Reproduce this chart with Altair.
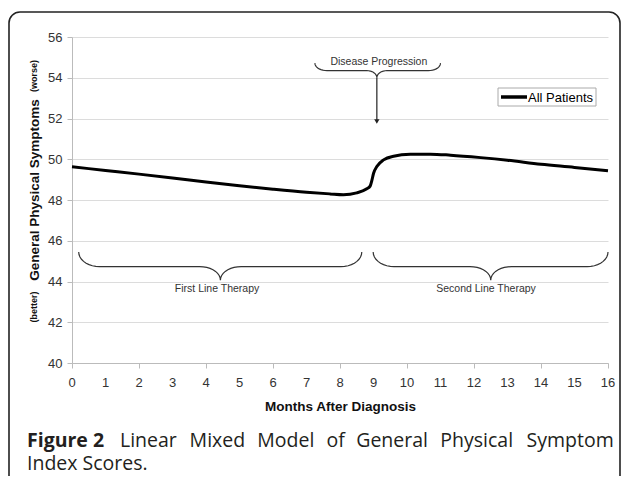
import altair as alt
import pandas as pd
import numpy as np

# ---------------- data ----------------
months = [0, 1, 2, 3, 4, 5, 6, 7, 7.7, 8.1, 8.5, 8.8, 8.9, 8.95, 9.0, 9.1, 9.3,
          9.6, 10.1, 10.7, 11.3, 12.2, 13, 14, 15, 16]
scores = [49.63, 49.45, 49.27, 49.08, 48.88, 48.70, 48.53, 48.38, 48.30, 48.26,
          48.35, 48.55, 48.68, 48.95, 49.30, 49.64, 49.97, 50.15, 50.24, 50.25,
          50.20, 50.08, 49.95, 49.75, 49.60, 49.43]
series_name = "All Patients"

x_ticks = list(range(0, 17))
y_ticks = list(range(40, 57, 2))

# annotation braces (in data units: months / score)
brace_labels = ["First Line Therapy", "Second Line Therapy", "Disease Progression"]
brace_start = [0.2, 8.99, 7.25]
brace_end = [8.65, 16.0, 11.0]
brace_tip_x = [4.43, 12.5, 9.1]
brace_top = [45.45, 45.45, 54.72]
brace_mid = [44.73, 44.73, 54.35]
brace_low = [44.07, 44.07, 54.0]
label_x = [4.33, 12.36, 9.16]
label_y = [43.63, 43.63, 54.77]

arrow_x = [9.1]
arrow_from = [54.0]
arrow_to = [51.85]

caption_bold = "Figure 2"
caption_words = ["Linear", "Mixed", "Model", "of", "General", "Physical", "Symptom"]
caption_line2 = "Index Scores."
ytitle_parts = ["(worse)", "General Physical Symptoms", "(better)"]

# ---------------- layout / style ----------------
W, H = 536, 326
FONT = "Liberation Sans"
CAP_FONT = "Open Sans"
curl_end = [0.62, 0.62, 0.36]
curl_tip = [0.62, 0.62, 0.30]


def brace_points(x0, x1, xc, yt, ym, yl, we, wt, n=10):
    pts = []
    for t in np.linspace(np.pi, np.pi / 2, n):
        pts.append((x0 + we + we * np.cos(t), yt - (yt - ym) * np.sin(t)))
    for t in np.linspace(0, np.pi / 2, n):
        pts.append((xc - wt + wt * np.sin(t), yl + (ym - yl) * np.cos(t)))
    for t in np.linspace(np.pi / 2, 0, n):
        pts.append((xc + wt - wt * np.sin(t), yl + (ym - yl) * np.cos(t)))
    for t in np.linspace(np.pi / 2, 0, n):
        pts.append((x1 - we + we * np.cos(t), yt - (yt - ym) * np.sin(t)))
    return pts


rows = []
for i, name in enumerate(brace_labels):
    for k, (bx, by) in enumerate(brace_points(brace_start[i], brace_end[i], brace_tip_x[i],
                                              brace_top[i], brace_mid[i], brace_low[i],
                                              curl_end[i], curl_tip[i])):
        rows.append({"brace": name, "order": k, "x": bx, "y": by})
brace_df = pd.DataFrame(rows)

line_df = pd.DataFrame({"month": months, "score": scores, "series": series_name})
label_df = pd.DataFrame({"label": brace_labels, "x": label_x, "y": label_y})
arrow_df = pd.DataFrame({"x": arrow_x, "y": arrow_from, "y2": arrow_to})
xtick_df = pd.DataFrame({"m": x_ticks, "lab": [str(v) for v in x_ticks]})
one = pd.DataFrame({"a": [0]})

xscale = alt.Scale(domain=[0, 16], nice=False)
yscale = alt.Scale(domain=[40, 56], nice=False)
xaxis = alt.Axis(values=x_ticks, tickCount=16, grid=False, title="Months After Diagnosis",
                 labels=False, tickColor="#bbb", tickSize=5, domainColor="#bbb",
                 titleFont=FONT, titleFontSize=13.5, titleFontWeight="bold",
                 titleColor="#111", titlePadding=31)
yaxis = alt.Axis(values=y_ticks, grid=True, gridColor="#dcdcdc", title=None,
                 labelFontSize=13, labelColor="#333", labelFont=FONT,
                 tickColor="#bbb", tickSize=5, domainColor="#bbb", labelPadding=5)


def X(field):
    return alt.X(field, scale=xscale, axis=xaxis)


def Y(field):
    return alt.Y(field, scale=yscale, axis=yaxis)


border = alt.Chart(one).mark_rect(
    cornerRadius=11, fill="white", fillOpacity=0, stroke="#222", strokeWidth=1.6
).encode(x=alt.value(-63), x2=alt.value(548), y=alt.value(-25), y2=alt.value(470))

main = alt.Chart(line_df).mark_line(
    color="black", strokeWidth=3, interpolate="monotone"
).encode(x=X("month:Q"), y=Y("score:Q"))

# month tick labels, one per integer month, placed with the x scale
xlabels = alt.Chart(xtick_df).mark_text(
    font=FONT, fontSize=13, color="#333", align="center", baseline="middle"
).encode(x=X("m:Q"), y=alt.value(H + 20), text="lab:N")

braces = alt.Chart(brace_df).mark_line(color="#333", strokeWidth=1.2).encode(
    x=X("x:Q"), y=Y("y:Q"), detail="brace:N", order="order:Q")

labels = alt.Chart(label_df).mark_text(
    font=FONT, fontSize=10.5, color="#333", align="center", baseline="middle"
).encode(x=X("x:Q"), y=Y("y:Q"), text="label:N")

arrow = alt.Chart(arrow_df).mark_rule(color="#222", strokeWidth=1.2).encode(
    x=X("x:Q"), y=Y("y:Q"), y2="y2:Q")
arrow_head = alt.Chart(arrow_df).mark_point(
    shape="triangle-down", filled=True, color="#222", size=28, opacity=1
).encode(x=X("x:Q"), y=Y("y2:Q"))

# legend box
leg_df = pd.DataFrame({"series": [series_name]})
leg_box = alt.Chart(leg_df).mark_rect(fill="white", stroke="#aaa", strokeWidth=1).encode(
    x=alt.value(426), x2=alt.value(524), y=alt.value(51), y2=alt.value(69))
leg_line = alt.Chart(leg_df).mark_rule(color="black", strokeWidth=3.5).encode(
    x=alt.value(429), x2=alt.value(455), y=alt.value(60))
leg_text = alt.Chart(leg_df).mark_text(
    font=FONT, fontSize=13, color="black", align="left", baseline="middle"
).encode(x=alt.value(456), y=alt.value(60.5), text="series:N")

# y-axis title pieces
ytitle_df = pd.DataFrame({"t": ytitle_parts})
yt_layers = []
for txt, ypos, fs, xpos in [(ytitle_parts[0], 39, 9, -38), (ytitle_parts[1], 153, 13.5, -37),
                            (ytitle_parts[2], 270, 9, -38)]:
    yt_layers.append(alt.Chart(ytitle_df[ytitle_df.t == txt]).mark_text(
        font=FONT, fontSize=fs, fontWeight="bold", color="#111", angle=270,
        align="center", baseline="middle"
    ).encode(x=alt.value(xpos), y=alt.value(ypos), text="t:N"))

# caption (justified first line)
cap_layers = []
cap_df = pd.DataFrame({"w": [caption_bold] + caption_words + [caption_line2]})
word_x = [-45, 48, 117.6, 185.3, 254.6, 284.2, 368.3, 454.5]
for j, w in enumerate([caption_bold] + caption_words):
    cap_layers.append(alt.Chart(cap_df[cap_df.w == w]).mark_text(
        font=CAP_FONT, fontSize=19.5, fontWeight="bold" if j == 0 else "normal",
        color="#231f20", align="left", baseline="alphabetic"
    ).encode(x=alt.value(word_x[j]), y=alt.value(410), text="w:N"))
cap_layers.append(alt.Chart(cap_df[cap_df.w == caption_line2]).mark_text(
    font=CAP_FONT, fontSize=19.5, color="#231f20", align="left", baseline="alphabetic"
).encode(x=alt.value(-45), y=alt.value(433), text="w:N"))

chart = alt.layer(
    border, main, xlabels, braces, labels, arrow, arrow_head, leg_box, leg_line, leg_text,
    *yt_layers, *cap_layers
).properties(
    width=W, height=H,
    autosize=alt.AutoSizeParams(type="none"),
    padding={"left": 64, "top": 29, "right": 13, "bottom": 113},
    background="white",
).configure_view(strokeWidth=0)

chart.save("out.html", embed_options={"renderer": "svg", "actions": False})
